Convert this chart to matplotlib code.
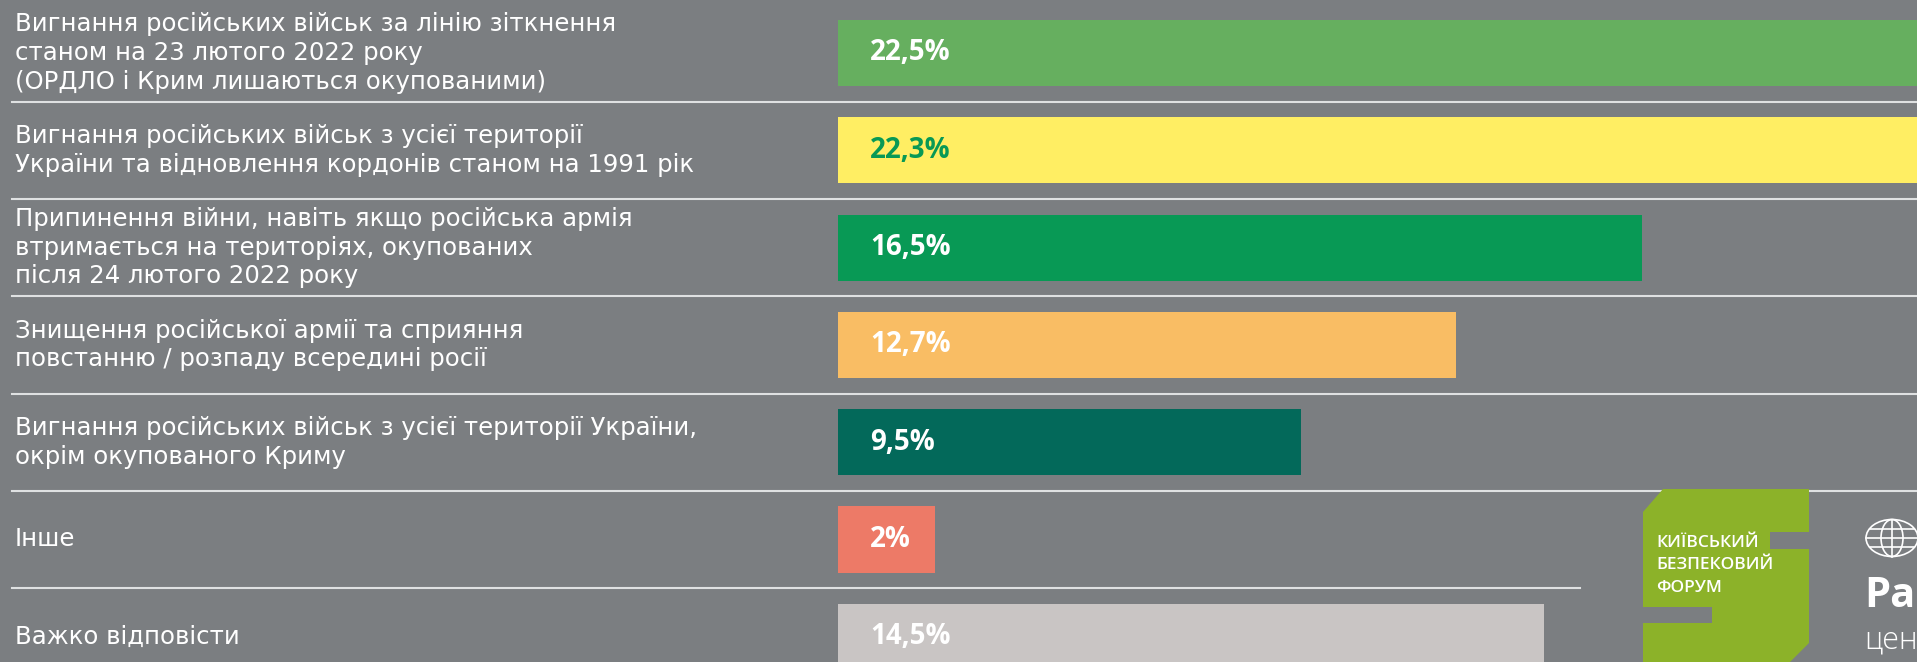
import matplotlib.pyplot as plt
from matplotlib.patches import Polygon, Ellipse
import matplotlib.lines as mlines

plt.rcParams['font.family'] = ['Open Sans', 'DejaVu Sans']

# data
answers = [
    "Вигнання російських військ за лінію зіткнення\nстаном на 23 лютого 2022 року\n(ОРДЛО і Крим лишаються окупованими)",
    "Вигнання російських військ з усієї території\nУкраїни та відновлення кордонів станом на 1991 рік",
    "Припинення війни, навіть якщо російська армія\nвтримається на територіях, окупованих\nпісля 24 лютого 2022 року",
    "Знищення російської армії та сприяння\nповстанню / розпаду всередині росії",
    "Вигнання російських військ з усієї території України,\nокрім окупованого Криму",
    "Інше",
    "Важко відповісти",
]
values = [22.5, 22.3, 16.5, 12.7, 9.5, 2, 14.5]
value_labels = ["22,5%", "22,3%", "16,5%", "12,7%", "9,5%", "2%", "14,5%"]
colors = ["#66af5f", "#ffee63", "#089955", "#f9bd64", "#03695a", "#ed7a67", "#c9c5c4"]
label_colors = ["white", "#089955", "white", "white", "white", "white", "white"]

bg = "#7b7e81"
W, H = 1917, 662
fig = plt.figure(figsize=(W / 100, H / 100), dpi=100, facecolor=bg)
ax = fig.add_axes([0, 0, 1, 1])
ax.set_facecolor(bg)

# scale: bars start at x=838px, 48.7 px per percent; rows every 97.3px from y=53
px_per = 48.7
x0 = 838
row = 97.3
ax.set_xlim(-x0 / px_per, (W - x0) / px_per)
ax.set_ylim((H - 53) / row, -53 / row)
ax.axis('off')

ys = range(len(values))
ax.barh(list(ys), values, height=66 / row, color=colors, left=0)

for i, (lab, vl, lc) in enumerate(zip(answers, value_labels, label_colors)):
    ax.text(-823 / px_per, i, lab, ha='left', va='center', color='white',
            fontsize=17.6, linespacing=1.25, family='DejaVu Sans')
    ax.text(0.66, i, vl, ha='left', va='center', color=lc,
            fontsize=20, fontweight='bold')

# separators
for i in range(len(values) - 1):
    xmax = 1.0 if i < 5 else 1580 / W
    ax.axhline(i + 0.5, xmin=12 / W, xmax=xmax, color='#dfe1e2', lw=1.5)

# logo of the Kyiv Security Forum (decoration, pixel coords)
def fx(x):
    return x / W

def fy(y):
    return 1 - y / H

green = "#8cb229"
pts = [(1643, 512), (1663, 489), (1809, 489), (1809, 532), (1770, 532),
       (1770, 549), (1809, 549), (1809, 643), (1790, 662), (1643, 662),
       (1643, 623), (1712, 623), (1712, 607), (1643, 607)]
fig.patches.append(Polygon([(fx(x), fy(y)) for x, y in pts], closed=True,
                           transform=fig.transFigure, facecolor=green,
                           edgecolor='none'))
for txt, y in [("КИЇВСЬКИЙ", 543), ("БЕЗПЕКОВИЙ", 565), ("ФОРУМ", 588)]:
    fig.text(fx(1656), fy(y), txt, color='white', fontsize=12.5,
             fontweight='semibold', va='center', ha='left')

# Razumkov centre logo (cut off by the frame)
gx, gy = 1892, 538
fig.patches.append(Ellipse((fx(gx), fy(gy)), 52 / W, 37 / H, transform=fig.transFigure,
                           facecolor='none', edgecolor='white', lw=1.2))
fig.patches.append(Ellipse((fx(gx), fy(gy)), 22 / W, 37 / H, transform=fig.transFigure,
                           facecolor='none', edgecolor='white', lw=1.2))
fig.lines.append(mlines.Line2D([fx(gx), fx(gx)], [fy(gy - 18.5), fy(gy + 18.5)],
                               transform=fig.transFigure, color='white', lw=1.2))
for dy, half in [(0, 26), (-9, 22), (9, 22)]:
    fig.lines.append(mlines.Line2D([fx(gx - half), fx(gx + half)], [fy(gy + dy), fy(gy + dy)],
                                   transform=fig.transFigure, color='white', lw=1.2))
fig.text(fx(1864), fy(607), "Ра", color='white', fontsize=30, fontweight='bold',
         va='baseline', ha='left')
fig.text(fx(1864), fy(640), "цен", color='white', fontsize=22, fontweight='light',
         va='center', ha='left')

fig.savefig('out.png', dpi=100, facecolor=bg)
